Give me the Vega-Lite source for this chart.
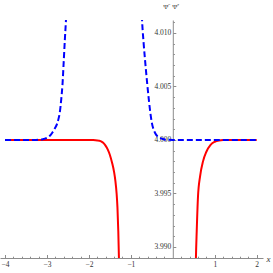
{
  "$schema": "https://vega.github.io/schema/vega-lite/v6.json",
  "width": 263,
  "height": 238,
  "autosize": {"type": "none"},
  "padding": {"left": 0, "top": 20, "right": 10, "bottom": 15},
  "config": {
    "view": {"stroke": null},
    "axis": {
      "grid": false,
      "labelFont": "Liberation Serif",
      "titleFont": "Liberation Serif",
      "domainColor": "#8c8c8c",
      "tickColor": "#8c8c8c",
      "labelColor": "#333333",
      "labelFontSize": 7.5,
      "titleColor": "#333333",
      "titleFontWeight": "normal"
    }
  },
  "datasets": {
    "red": [
      {"seg": "L", "x": -4, "y": 4.0},
      {"seg": "L", "x": -2.0, "y": 4.0},
      {"seg": "L", "x": -1.9, "y": 3.99999},
      {"seg": "L", "x": -1.8, "y": 3.99996},
      {"seg": "L", "x": -1.75, "y": 3.99993},
      {"seg": "L", "x": -1.7, "y": 3.99985},
      {"seg": "L", "x": -1.65, "y": 3.9997},
      {"seg": "L", "x": -1.6, "y": 3.99945},
      {"seg": "L", "x": -1.55, "y": 3.9991},
      {"seg": "L", "x": -1.5, "y": 3.9986},
      {"seg": "L", "x": -1.45, "y": 3.9979},
      {"seg": "L", "x": -1.4, "y": 3.997},
      {"seg": "L", "x": -1.37, "y": 3.9962},
      {"seg": "L", "x": -1.34, "y": 3.995},
      {"seg": "L", "x": -1.32, "y": 3.9937},
      {"seg": "L", "x": -1.3, "y": 3.9915},
      {"seg": "L", "x": -1.28, "y": 3.9882},
      {"seg": "L", "x": -1.26, "y": 3.984},
      {"seg": "R", "x": 0.53, "y": 3.984},
      {"seg": "R", "x": 0.55, "y": 3.9888},
      {"seg": "R", "x": 0.57, "y": 3.9915},
      {"seg": "R", "x": 0.6, "y": 3.9947},
      {"seg": "R", "x": 0.65, "y": 3.9966},
      {"seg": "R", "x": 0.72, "y": 3.998},
      {"seg": "R", "x": 0.8, "y": 3.9989},
      {"seg": "R", "x": 0.9, "y": 3.99955},
      {"seg": "R", "x": 1.0, "y": 3.99983},
      {"seg": "R", "x": 1.1, "y": 3.99995},
      {"seg": "R", "x": 1.2, "y": 3.99999},
      {"seg": "R", "x": 1.4, "y": 4.0},
      {"seg": "R", "x": 2.0, "y": 4.0}
    ],
    "blue": [
      {"seg": "L", "x": -4, "y": 4.0},
      {"seg": "L", "x": -3.3, "y": 4.0},
      {"seg": "L", "x": -3.2, "y": 4.00002},
      {"seg": "L", "x": -3.1, "y": 4.00006},
      {"seg": "L", "x": -3.0, "y": 4.0002},
      {"seg": "L", "x": -2.93, "y": 4.0004},
      {"seg": "L", "x": -2.87, "y": 4.0007},
      {"seg": "L", "x": -2.81, "y": 4.0011},
      {"seg": "L", "x": -2.76, "y": 4.0015},
      {"seg": "L", "x": -2.73, "y": 4.0019},
      {"seg": "L", "x": -2.69, "y": 4.0027},
      {"seg": "L", "x": -2.66, "y": 4.0038},
      {"seg": "L", "x": -2.63, "y": 4.0052},
      {"seg": "L", "x": -2.6, "y": 4.0074},
      {"seg": "L", "x": -2.575, "y": 4.0093},
      {"seg": "L", "x": -2.55, "y": 4.011},
      {"seg": "L", "x": -2.53, "y": 4.0125},
      {"seg": "R", "x": -0.75, "y": 4.0125},
      {"seg": "R", "x": -0.728, "y": 4.0108},
      {"seg": "R", "x": -0.695, "y": 4.009},
      {"seg": "R", "x": -0.663, "y": 4.0075},
      {"seg": "R", "x": -0.609, "y": 4.0052},
      {"seg": "R", "x": -0.57, "y": 4.0037},
      {"seg": "R", "x": -0.544, "y": 4.0028},
      {"seg": "R", "x": -0.5, "y": 4.0016},
      {"seg": "R", "x": -0.45, "y": 4.0009},
      {"seg": "R", "x": -0.4, "y": 4.0005},
      {"seg": "R", "x": -0.35, "y": 4.0003},
      {"seg": "R", "x": -0.28, "y": 4.00015},
      {"seg": "R", "x": -0.2, "y": 4.00005},
      {"seg": "R", "x": -0.1, "y": 4.00001},
      {"seg": "R", "x": 0.0, "y": 4.0},
      {"seg": "R", "x": 2.0, "y": 4.0}
    ]
  },
  "layer": [
    {
      "data": {"name": "red"},
      "mark": {"type": "line", "color": "#ff0000", "strokeWidth": 2, "clip": true, "interpolate": "monotone"},
      "encoding": {
        "x": {
          "field": "x", "type": "quantitative",
          "scale": {"domain": [-4.12, 2.15], "nice": false, "zero": false},
          "axis": {
            "orient": "bottom",
            "values": [-4, -3, -2, -1, 1, 2],
            "format": "d",
            "tickSize": -3.5,
            "labelPadding": 6,
            "title": "x",
            "titleFontStyle": "italic",
            "titleFontSize": 9,
            "titleX": 268,
            "titleY": 0,
            "titleAlign": "center",
            "titleBaseline": "middle"
          }
        },
        "y": {
          "field": "y", "type": "quantitative",
          "scale": {"domain": [3.98897, 4.01121], "nice": false, "zero": false},
          "axis": {
            "orient": "left",
            "offset": -172.8,
            "values": [3.99, 3.995, 4.0, 4.005, 4.01],
            "format": ".3f",
            "tickSize": -3,
            "labelPadding": 5,
            "title": "Ψ⁻ Ψ⁺",
            "titleAngle": 0,
            "titleFontSize": 7,
            "titleX": -2,
            "titleY": -14,
            "titleAlign": "center",
            "titleBaseline": "middle"
          }
        },
        "detail": {"field": "seg", "type": "nominal"}
      }
    },
    {
      "data": {"name": "blue"},
      "mark": {"type": "line", "color": "#0000ff", "strokeWidth": 2, "strokeDash": [6, 3], "clip": true, "interpolate": "monotone"},
      "encoding": {
        "x": {
          "field": "x", "type": "quantitative",
          "scale": {"domain": [-4.12, 2.15], "nice": false, "zero": false},
          "axis": {
            "orient": "bottom",
            "values": [-3.8, -3.6, -3.4, -3.2, -2.8, -2.6, -2.4, -2.2, -1.8, -1.6, -1.4, -1.2, -0.8, -0.6, -0.4, -0.2, 0.2, 0.4, 0.6, 0.8, 1.2, 1.4, 1.6, 1.8],
            "labels": false,
            "domain": false,
            "tickSize": -1.8,
            "title": null
          }
        },
        "y": {
          "field": "y", "type": "quantitative",
          "scale": {"domain": [3.98897, 4.01121], "nice": false, "zero": false},
          "axis": {
            "orient": "left",
            "offset": -172.8,
            "values": [3.989, 3.991, 3.992, 3.993, 3.994, 3.996, 3.997, 3.998, 3.999, 4.001, 4.002, 4.003, 4.004, 4.006, 4.007, 4.008, 4.009, 4.011],
            "labels": false,
            "domain": false,
            "tickSize": -1.6,
            "title": null
          }
        },
        "detail": {"field": "seg", "type": "nominal"}
      }
    }
  ],
  "resolve": {"axis": {"x": "independent", "y": "independent"}}
}
